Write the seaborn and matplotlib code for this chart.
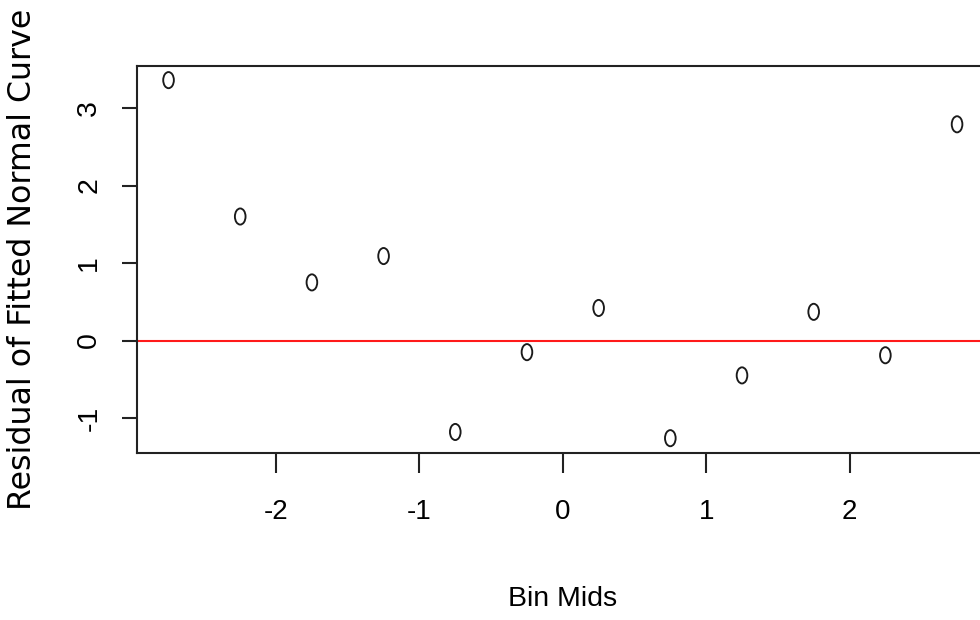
import numpy as np
import pandas as pd
import matplotlib
matplotlib.use("Agg")
import matplotlib.pyplot as plt
from matplotlib.path import Path
from matplotlib.transforms import Affine2D
import seaborn as sns

# Bin midpoints and residuals of the fitted normal curve
bin_mids = [-2.75, -2.25, -1.75, -1.25, -0.75, -0.25, 0.25, 0.75, 1.25, 1.75, 2.25, 2.75]
residuals = [3.36, 1.60, 0.75, 1.09, -1.18, -0.15, 0.42, -1.26, -0.45, 0.37, -0.19, 2.79]
x_ticks = [-2, -1, 0, 1, 2]
y_ticks = [-1, 0, 1, 2, 3]

df = pd.DataFrame({"mid": bin_mids, "resid": residuals})

sns.set_style("white")
plt.rcParams["font.family"] = ["Liberation Sans", "DejaVu Sans"]

fig = plt.figure(figsize=(9.8, 6.2), dpi=100)
ax = fig.add_axes([137 / 980, 167.5 / 620, 851.6 / 980, 386.7 / 620])

# open, slightly tall ellipse as point symbol
ellipse = Path.unit_circle().transformed(Affine2D().scale(0.66, 1.0))

sns.scatterplot(data=df, x="mid", y="resid", ax=ax, marker=ellipse, s=135,
                facecolor="none", edgecolor="#1a1a1a", linewidth=1.35, zorder=3)
ax.axhline(0, color="#ff1a1a", linewidth=1.5, zorder=2)


def padded(vals, frac=0.04):
    lo, hi = min(vals), max(vals)
    d = (hi - lo) * frac
    return lo - d, hi + d


ax.set_xlim(*padded(bin_mids))
ax.set_ylim(*padded(residuals))

ax.set_xticks(x_ticks)
ax.set_xticklabels([str(v) for v in x_ticks])
ax.set_yticks(y_ticks)
ax.set_yticklabels([str(v) for v in y_ticks])

for sp in ax.spines.values():
    sp.set_visible(True)
    sp.set_color("#222222")
    sp.set_linewidth(1.5)

ax.tick_params(axis="x", direction="out", length=14.4, width=1.5, color="#222222",
               pad=19, labelsize=20, labelcolor="black", bottom=True)
ax.tick_params(axis="y", direction="out", length=11, width=1.5, color="#222222",
               pad=14, labelsize=20.5, labelcolor="black", left=True, labelrotation=90)
for lab in ax.get_yticklabels():
    lab.set_verticalalignment("center")
ax.grid(False)

ax.set_xlabel("Bin Mids", fontsize=20.5, color="black")
ax.xaxis.set_label_coords(0.5, -0.346)
ax.set_ylabel("Residual of Fitted Normal Curve", fontsize=22.8, color="black",
              family=["DejaVu Sans"])
ax.yaxis.set_label_coords(-0.116, 0.5)

fig.savefig("out.png", dpi=100, facecolor="white")
